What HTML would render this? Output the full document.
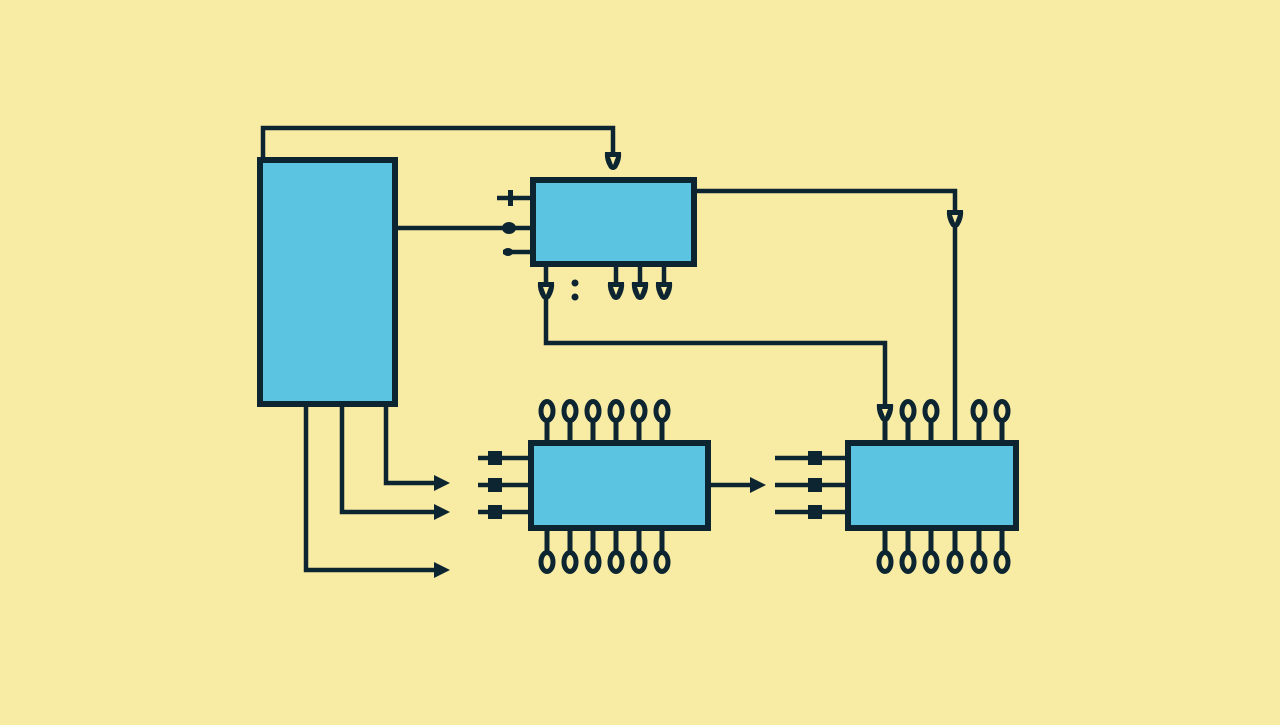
<!DOCTYPE html>
<html><head><style>html,body{margin:0;padding:0;background:#f8eca5;}</style></head><body>
<svg width="1280" height="720" viewBox="0 0 1280 720" xmlns="http://www.w3.org/2000/svg">
<rect width="1280" height="720" fill="#f8eca5"/>
<defs>
<g id="pin"><ellipse cx="0" cy="0" rx="6" ry="9.5" fill="#f8eca5" stroke="#0d2530" stroke-width="5"/><rect x="-1.3" y="-4" width="2.6" height="7" fill="#f8eca5"/></g>
<g id="vd"><path d="M-8,-8 L8,-8 Q9,0 4,8 Q0,12 -4,8 Q-9,0 -8,-8 Z" fill="#0d2530"/><path d="M-3,-3 L3,-3 L0,5 Z" fill="#f8eca5"/></g>
<g id="ah"><path d="M-16,-8 L0,0 L-16,8 Z" fill="#0d2530"/></g>
</defs>
<g stroke="#0d2530" stroke-width="4.5" fill="none">
<path d="M263,157 V128 H613 V160"/>
<path d="M397,228 H530"/>
<path d="M497,198 H530 M503,252 H530"/>
<path d="M697,191 H955 V440"/>
<path d="M546,266 V343 H885 V410"/>
<path d="M616,266 V288 M640,266 V288 M664,266 V288"/>
<path d="M386,406 V483 H435 M342,406 V512 H435 M306,406 V570 H435"/>
<path d="M710,485 H750"/>
<path d="M478,458 H528 M478,485 H528 M478,512 H528"/>
<path d="M775,458 H845 M775,485 H845 M775,512 H845"/>
</g>
<g fill="#0d2530">
<rect x="508" y="190" width="5" height="16"/>
<ellipse cx="509" cy="228" rx="7" ry="6"/>
<ellipse cx="508" cy="252" rx="5" ry="4"/>
<circle cx="575" cy="283" r="3.5"/><circle cx="575" cy="297" r="3.5"/>
<rect x="488" y="451" width="14" height="14"/><rect x="488" y="478" width="14" height="14"/><rect x="488" y="505" width="14" height="14"/>
<rect x="808" y="451" width="14" height="14"/><rect x="808" y="478" width="14" height="14"/><rect x="808" y="505" width="14" height="14"/>
</g>
<use href="#vd" x="613" y="160"/>
<use href="#vd" x="955" y="218"/>
<use href="#vd" x="546" y="290"/>
<use href="#vd" x="616" y="290"/><use href="#vd" x="640" y="290"/><use href="#vd" x="664" y="290"/>
<use href="#vd" x="885" y="412"/>
<use href="#ah" x="450" y="483"/><use href="#ah" x="450" y="512"/><use href="#ah" x="450" y="570"/>
<use href="#ah" x="766" y="485"/>
<g stroke="#0d2530" stroke-width="5">
<path d="M547,420 V440 M570,420 V440 M593,420 V440 M616,420 V440 M639,420 V440 M662,420 V440"/>
<path d="M547,530 V552 M570,530 V552 M593,530 V552 M616,530 V552 M639,530 V552 M662,530 V552"/>
<path d="M908,420 V440 M931,420 V440 M979,420 V440 M1002,420 V440 M885,420 V440"/>
<path d="M885,530 V552 M908,530 V552 M931,530 V552 M955,530 V552 M979,530 V552 M1002,530 V552"/>
</g>
<g>
<use href="#pin" x="547" y="411"/><use href="#pin" x="570" y="411"/><use href="#pin" x="593" y="411"/><use href="#pin" x="616" y="411"/><use href="#pin" x="639" y="411"/><use href="#pin" x="662" y="411"/>
<use href="#pin" x="547" y="562"/><use href="#pin" x="570" y="562"/><use href="#pin" x="593" y="562"/><use href="#pin" x="616" y="562"/><use href="#pin" x="639" y="562"/><use href="#pin" x="662" y="562"/>
<use href="#pin" x="908" y="411"/><use href="#pin" x="931" y="411"/><use href="#pin" x="979" y="411"/><use href="#pin" x="1002" y="411"/>
<use href="#pin" x="885" y="562"/><use href="#pin" x="908" y="562"/><use href="#pin" x="931" y="562"/><use href="#pin" x="955" y="562"/><use href="#pin" x="979" y="562"/><use href="#pin" x="1002" y="562"/>
</g>
<g fill="#5bc4e0" stroke="#0d2530" stroke-width="6">
<rect x="260" y="160" width="135" height="244"/>
<rect x="533" y="180" width="161" height="84"/>
<rect x="531" y="443" width="177" height="85"/>
<rect x="848" y="443" width="168" height="85"/>
</g>
</svg>
</body></html>
